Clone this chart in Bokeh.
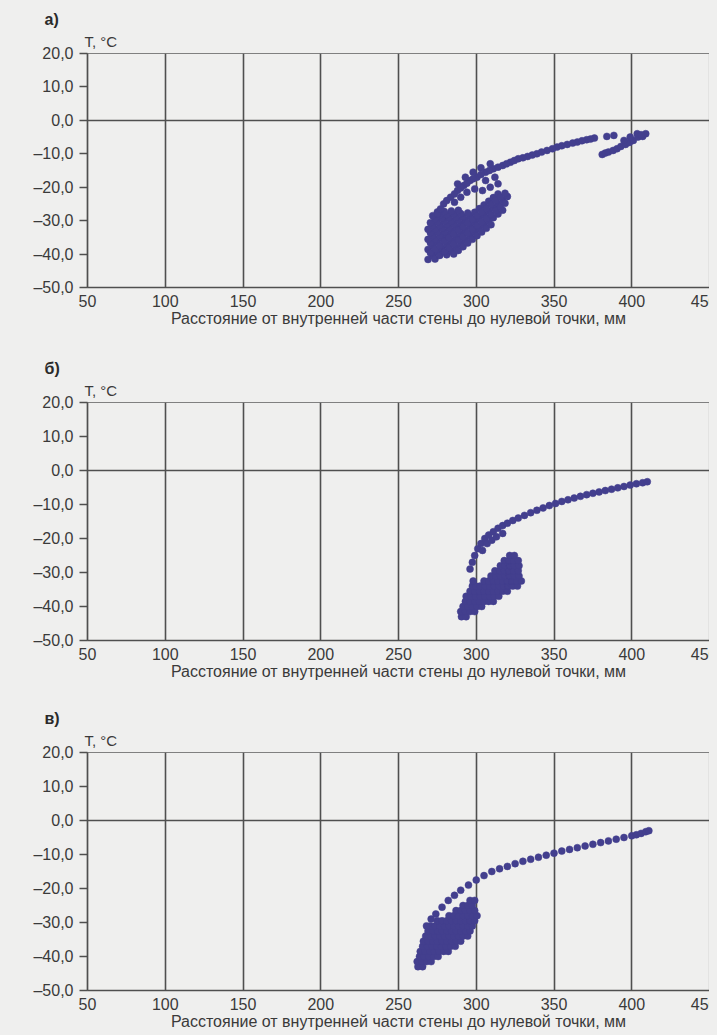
from bokeh.plotting import figure
from bokeh.layouts import column
from bokeh.models import FixedTicker, Title
from bokeh.embed import file_html
from bokeh.resources import INLINE

# ---------------- data ----------------
X_TICKS = [50, 100, 150, 200, 250, 300, 350, 400, 450]
X_LABELS = ["50", "100", "150", "200", "250", "300", "350", "400", "450"]
Y_TICKS = [20, 10, 0, -10, -20, -30, -40, -50]
Y_LABELS = ["20,0", "10,0", "0,0", "–10,0", "–20,0", "–30,0", "–40,0", "–50,0"]
PANELS = ["а)", "б)", "в)"]
Y_TITLE = "T, °C"
X_TITLE = "Расстояние от внутренней части стены до нулевой точки, мм"

# chart а) : x = distance, mm ; y = temperature, °C
A_X = [269, 272, 275, 278, 281, 284, 287, 290, 293, 296, 299, 302, 305, 308, 311, 314, 317, 320,
       281, 284, 287, 290, 293, 296, 299, 302, 305, 308, 311, 314, 317,
       269, 272, 275, 278, 281, 284, 287, 290, 293, 296, 299, 302, 305, 308, 311, 314,
       273.5, 276.5, 279.5, 282.5, 285.5, 288.5, 291.5, 294.5, 297.5, 300.5, 303.5, 306.5, 309.5, 312.5, 315.5, 318.5,
       270.5, 273.5, 276.5, 279.5, 282.5, 285.5, 288.5, 291.5, 294.5, 297.5, 300.5, 303.5, 306.5, 309.5, 312.5, 315.5, 318.5,
       285.5, 288.5, 291.5, 294.5, 297.5, 300.5, 303.5, 306.5, 309.5,
       270.5, 273.5, 276.5, 279.5, 282.5, 285.5, 288.5, 291.5, 294.5,
       269, 272, 275, 278, 281, 284, 287, 290,
       270.5, 273.5, 276.5, 279.5, 282.5, 285.5, 288.5,
       269, 272, 275, 278, 281, 284,
       270.5, 273.5, 276.5, 279.5,
       272, 275,
       275, 279, 283.5, 288, 292, 296, 300.5, 306, 311, 317, 322, 327, 333, 339,
       345.5, 352, 358.5, 365, 371, 376, 384, 388.5,
       277, 281, 286, 290, 294, 298, 303, 308.5, 314, 319.5, 324.5, 330, 336, 342,
       349, 355, 362, 368, 373.5,
       286, 290, 294, 299, 304, 309, 314, 306, 312,
       288, 293, 298, 303, 309,
       381, 383, 385, 388, 390.5, 393, 396, 398.5, 401, 404, 407, 409, 399, 395, 403.5, 406]
A_Y = [-41.6, -40.5, -39.4, -38.3, -37.2, -36.1, -35.0, -33.9, -32.8, -31.6, -30.5, -29.4, -28.3, -27.2, -26.1, -25.0, -23.9, -22.8,
       -40.2, -39.1, -38.0, -36.9, -35.8, -34.6, -33.5, -32.4, -31.3, -30.2, -29.1, -28.0, -26.9,
       -38.6, -37.5, -36.4, -35.3, -34.2, -33.1, -32.0, -30.9, -29.8, -28.6, -27.5, -26.4, -25.3, -24.2, -23.1, -22.0,
       -41.5, -40.4, -39.3, -38.1, -37.0, -35.9, -34.8, -33.7, -32.6, -31.5, -30.4, -29.3, -28.2, -27.0, -25.9, -24.8,
       -39.6, -38.5, -37.4, -36.2, -35.1, -34.0, -32.9, -31.8, -30.7, -29.6, -28.5, -27.4, -26.3, -25.1, -24.0, -22.9, -21.8,
       -40.0, -38.9, -37.8, -36.7, -35.6, -34.5, -33.4, -32.3, -31.2,
       -36.6, -35.5, -34.4, -33.3, -32.1, -31.0, -29.9, -28.8, -27.7,
       -35.6, -34.5, -33.4, -32.3, -31.2, -30.1, -29.0, -27.9,
       -33.6, -32.5, -31.4, -30.2, -29.1, -28.0, -26.9,
       -32.6, -31.5, -30.4, -29.3, -28.2, -27.1,
       -30.6, -29.5, -28.4, -27.3,
       -28.5, -27.4,
       -28.0, -25.0, -23.0, -21.0, -19.5, -18.0, -17.0, -15.5, -14.5, -13.5, -12.5, -11.5, -10.8, -10.0,
       -9.0, -8.0, -7.2, -6.5, -5.8, -5.3, -4.8, -4.5,
       -26.5, -24.0, -22.0, -20.2, -18.8, -17.5, -16.2, -15.0, -14.0, -13.0, -12.0, -11.2, -10.4, -9.5,
       -8.5, -7.6, -6.8, -6.1, -5.6,
       -24.5, -23.0, -21.5, -20.5, -21.0, -20.0, -19.0, -18.0, -17.0,
       -19.0, -17.0, -15.5, -14.2, -13.0,
       -10.2, -9.8, -9.5, -9.0, -8.5, -7.8, -7.2, -6.6, -6.0, -5.0, -4.8, -4.0, -5.0, -6.0, -4.0, -4.3]

# chart б)
B_X = [290.5, 293.5,
       290, 293, 296, 299,
       291.5, 294.5, 297.5, 300.5, 303.5,
       293, 296, 299, 302, 305, 308, 311,
       293.5, 296.5, 299.5, 302.5, 305.5, 308.5, 311.5, 314.5,
       296, 299, 302, 305, 308, 311, 314, 317, 320,
       297.5, 299.5, 302.5, 305.5, 308.5, 311.5, 314.5, 317.5, 320.5, 323.5, 326.5,
       298, 305, 308, 311, 314, 317, 320, 323, 326, 329,
       309.5, 312.5, 315.5, 318.5, 321.5, 324.5, 327.5,
       312, 315, 318, 321, 324, 327,
       315.5, 318.5, 321.5, 324.5, 327.5,
       318, 321, 324, 327,
       321.5, 324.5,
       296, 297.5, 299, 301, 303, 305.5, 308, 311, 314, 317, 320, 323.5, 327, 331, 335, 339,
       343, 347, 351, 355, 359, 363, 367, 371, 375, 379, 383, 387, 391, 395, 399, 403, 407, 410,
       304, 307, 310, 313, 317]
B_Y = [-43.0, -43.0,
       -41.5, -41.5, -41.5, -41.5,
       -40.0, -40.0, -40.0, -40.0, -40.0,
       -38.5, -38.5, -38.5, -38.5, -38.5, -38.5, -38.5,
       -37.0, -37.0, -37.0, -37.0, -37.0, -37.0, -37.0, -37.0,
       -35.5, -35.5, -35.5, -35.5, -35.5, -35.5, -35.5, -35.5, -35.5,
       -34.0, -34.0, -34.0, -34.0, -34.0, -34.0, -34.0, -34.0, -34.0, -34.0, -34.0,
       -32.5, -32.5, -32.5, -32.5, -32.5, -32.5, -32.5, -32.5, -32.5, -32.5,
       -31.0, -31.0, -31.0, -31.0, -31.0, -31.0, -31.0,
       -29.5, -29.5, -29.5, -29.5, -29.5, -29.5,
       -28.0, -28.0, -28.0, -28.0, -28.0,
       -26.5, -26.5, -26.5, -26.5,
       -25.0, -25.0,
       -29.0, -27.0, -25.0, -23.0, -21.5, -20.0, -19.0, -18.0, -17.0, -16.2, -15.5, -14.7, -14.0, -13.2, -12.4, -11.7,
       -11.0, -10.3, -9.7, -9.1, -8.6, -8.1, -7.6, -7.1, -6.7, -6.3, -5.9, -5.5, -5.1, -4.7, -4.3, -3.9, -3.6, -3.3,
       -23.5, -21.5, -20.5, -19.5, -18.5]

# chart в)
C_X = [262.5, 265.5,
       262, 265, 268, 271,
       263.5, 266.5, 269.5, 272.5, 275.5,
       264, 267, 270, 273, 276, 279, 282,
       265.5, 268.5, 271.5, 274.5, 277.5, 280.5, 283.5, 286.5,
       266, 269, 272, 275, 278, 281, 284, 287, 290,
       267.5, 270.5, 273.5, 276.5, 279.5, 282.5, 285.5, 288.5, 291.5, 294.5,
       269, 272, 275, 278, 281, 284, 287, 290, 293, 296,
       270.5, 273.5, 276.5, 279.5, 282.5, 285.5, 288.5, 291.5, 294.5, 297.5,
       275, 278, 281, 284, 287, 290, 293, 296, 299,
       282.5, 285.5, 288.5, 291.5, 294.5, 297.5, 300.5,
       287, 290, 293, 296, 299,
       291.5, 294.5, 297.5,
       296, 299,
       268, 271, 274, 278, 282, 286, 290, 295, 300, 305, 310, 315, 320, 325, 330, 335, 340,
       345, 350, 355, 360, 365, 370, 375, 380, 385, 390, 395, 400, 403, 406, 409, 411]
C_Y = [-43.0, -43.0,
       -41.5, -41.5, -41.5, -41.5,
       -40.0, -40.0, -40.0, -40.0, -40.0,
       -38.5, -38.5, -38.5, -38.5, -38.5, -38.5, -38.5,
       -37.0, -37.0, -37.0, -37.0, -37.0, -37.0, -37.0, -37.0,
       -35.5, -35.5, -35.5, -35.5, -35.5, -35.5, -35.5, -35.5, -35.5,
       -34.0, -34.0, -34.0, -34.0, -34.0, -34.0, -34.0, -34.0, -34.0, -34.0,
       -32.5, -32.5, -32.5, -32.5, -32.5, -32.5, -32.5, -32.5, -32.5, -32.5,
       -31.0, -31.0, -31.0, -31.0, -31.0, -31.0, -31.0, -31.0, -31.0, -31.0,
       -29.5, -29.5, -29.5, -29.5, -29.5, -29.5, -29.5, -29.5, -29.5,
       -28.0, -28.0, -28.0, -28.0, -28.0, -28.0, -28.0,
       -26.5, -26.5, -26.5, -26.5, -26.5,
       -25.0, -25.0, -25.0,
       -23.5, -23.5,
       -31.0, -29.0, -27.5, -25.5, -23.5, -22.0, -20.5, -19.0, -17.5, -16.2, -15.0, -14.2, -13.5, -12.7, -12.0, -11.4, -10.8,
       -10.2, -9.6, -9.0, -8.5, -8.0, -7.5, -7.0, -6.5, -6.0, -5.5, -5.0, -4.5, -4.2, -3.8, -3.3, -3.0]

# ---------------- style ----------------
BG = "#efefee"
GRID = "#4f4f4f"
TXT = "#3a3a3a"
DOT = "#433f8e"
FONT = "Liberation Sans"


def make(xs, ys, letter, height, top, bottom):
    p = figure(width=709, height=height, x_range=(50, 450), y_range=(-50, 20),
               output_backend="svg", toolbar_location=None,
               min_border_left=79, min_border_right=8, min_border_top=top,
               min_border_bottom=bottom)
    p.background_fill_color = BG
    p.border_fill_color = BG
    p.outline_line_color = "#808080"
    p.outline_line_width = 1.2

    p.xaxis.ticker = FixedTicker(ticks=X_TICKS)
    p.xaxis.major_label_overrides = dict(zip(X_TICKS, X_LABELS))
    p.xaxis.major_tick_out = 0
    p.xaxis.major_tick_in = 0
    p.xaxis.minor_tick_out = 0
    p.xaxis.minor_tick_in = 0
    p.xaxis.axis_label = X_TITLE
    p.xaxis.axis_label_standoff = 0
    p.xaxis.axis_label_text_font_style = "normal"
    p.xaxis.major_label_standoff = 7

    p.yaxis.ticker = FixedTicker(ticks=Y_TICKS)
    p.yaxis.major_label_overrides = dict(zip(Y_TICKS, Y_LABELS))
    p.yaxis.major_tick_out = 8
    p.yaxis.major_tick_in = 0
    p.yaxis.minor_tick_out = 0
    p.yaxis.minor_tick_in = 0
    p.yaxis.major_label_standoff = 6

    for ax in (p.xaxis, p.yaxis):
        ax.axis_line_color = GRID
        ax.axis_line_width = 1.6
        ax.major_tick_line_color = GRID
        ax.major_tick_line_width = 1.4
        ax.major_label_text_font = FONT
        ax.major_label_text_font_size = "16px"
        ax.major_label_text_color = TXT
        ax.axis_label_text_font = FONT
        ax.axis_label_text_font_size = "16px"
        ax.axis_label_text_color = TXT

    p.xgrid.ticker = FixedTicker(ticks=X_TICKS)
    p.ygrid.ticker = FixedTicker(ticks=[0])
    for g in (p.xgrid, p.ygrid):
        g.grid_line_color = GRID
        g.grid_line_width = 1.6
        g.grid_line_alpha = 1.0

    t1 = Title(text=Y_TITLE, align="left", offset=-3, text_font=FONT,
               text_font_size="15px", text_font_style="normal", text_color=TXT,
               standoff=7)
    p.add_layout(t1, "above")
    t2 = Title(text=letter, align="left", offset=-43, text_font=FONT,
               text_font_size="16px", text_font_style="bold", text_color="#2a2a2a",
               standoff=0)
    p.add_layout(t2, "above")

    p.scatter(xs, ys, marker="circle", size=7, fill_color=DOT, line_color=DOT,
              line_width=0.5)
    return p


pa = make(A_X, A_Y, PANELS[0], 349, 45, 70)
pb = make(B_X, B_Y, PANELS[1], 350, 45, 67)
pc = make(C_X, C_Y, PANELS[2], 328, 45, 45)

layout = column(pa, pb, pc, spacing=0)
html = file_html(layout, INLINE)
html = html.replace("<body>", '<body style="background:#efefee;margin:8px 8px 0 8px">')
open("out.html", "w").write(html)
